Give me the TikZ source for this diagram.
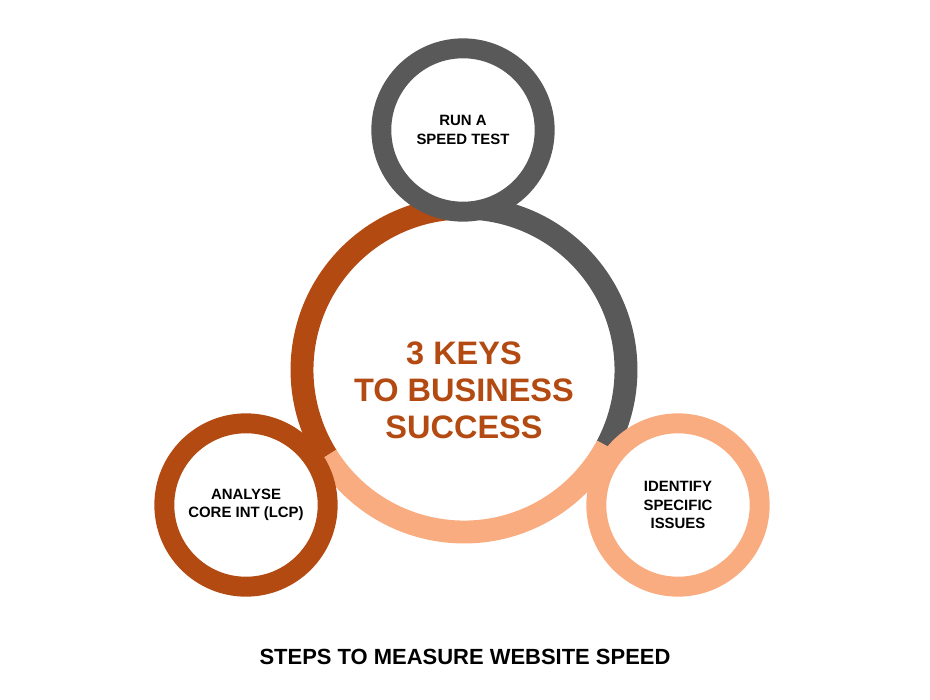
\documentclass[tikz,border=0pt]{standalone}
\usepackage{fontspec}
\setmainfont{Liberation Sans}
\definecolor{rust}{HTML}{B34A12}
\definecolor{slate}{HTML}{595959}
\definecolor{peach}{HTML}{F9AC7F}
\tikzset{
  keyring/.style={circle, draw=#1, line width=20*0.567pt, fill=white, minimum size=164*0.567pt, align=center, font=\bfseries\fontsize{8.5}{10.5}\selectfont},
  bigarc/.style={line width=23*0.567pt, draw=#1}
}
\begin{document}
\begin{tikzpicture}[x=0.02cm, y=-0.02cm]
    \useasboundingbox (0,0) rectangle (930,700);
    % grosser Ring
    \coordinate (M) at (464,370);
    \draw[bigarc=slate] (M) ++(-88:162) arc[start angle=-88, end angle=28, radius=162];
    \draw[bigarc=rust] (M) ++(-88:162) arc[start angle=-88, end angle=-212, radius=162];
    \draw[bigarc=peach] (M) ++(148:162) arc[start angle=148, end angle=28, radius=162];
    \node[font=\bfseries\fontsize{18.5}{21}\selectfont, text=rust, align=center] (keys) at (464,390) {3 KEYS\\TO BUSINESS\\SUCCESS};
    % kleine Ringe
    \node[keyring=slate] (test) at (463,130) {RUN A\\SPEED TEST};
    \node[keyring=rust] (lcp) at (246,505) {ANALYSE\\CORE INT (LCP)};
    \node[keyring=peach] (issues) at (678,505) {IDENTIFY\\SPECIFIC\\ISSUES};
    % Titel
    \node[font=\bfseries\fontsize{12.5}{15}\selectfont] (title) at (465,657) {STEPS TO MEASURE WEBSITE SPEED};
\end{tikzpicture}
\end{document}
